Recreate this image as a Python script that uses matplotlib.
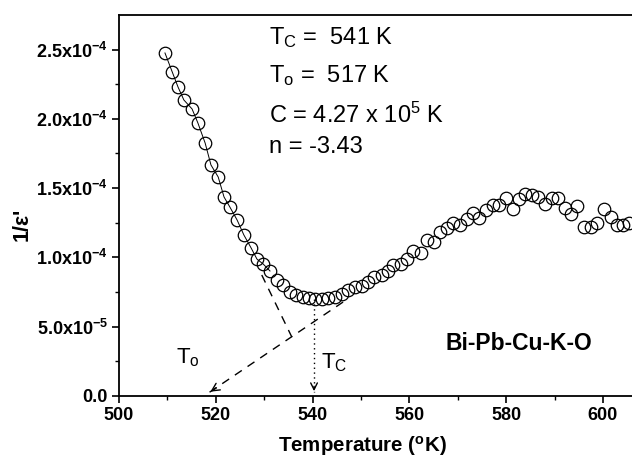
import matplotlib
matplotlib.use("Agg")
import matplotlib.pyplot as plt
import numpy as np

plt.rcParams['font.family'] = ['Liberation Sans', 'DejaVu Sans']
plt.rcParams['mathtext.fontset'] = 'custom'
plt.rcParams['mathtext.rm'] = 'Liberation Sans'
plt.rcParams['mathtext.it'] = 'Liberation Sans:italic'
plt.rcParams['mathtext.bf'] = 'Liberation Sans:bold'

temperature = [509.5, 511.0, 512.2, 513.4, 515.1, 516.3, 517.8, 519.0, 520.5, 521.7,
               522.9, 524.4, 525.8, 527.3, 528.5, 529.8, 531.2, 532.6, 533.9, 535.3,
               536.6, 538.0, 539.3, 540.5, 541.9, 543.2, 544.6, 546.1, 547.3, 548.8,
               550.2, 551.4, 552.7, 554.3, 555.6, 556.6, 558.3, 559.5, 560.7, 562.4,
               563.6, 565.1, 566.3, 567.8, 569.0, 570.5, 571.9, 573.1, 574.4, 575.8,
               577.3, 578.5, 580.0, 581.4, 582.6, 583.9, 585.3, 586.6, 588.0, 589.5,
               590.7, 592.1, 593.4, 594.6, 596.1, 597.5, 598.8, 600.2, 601.7, 602.9,
               604.1, 605.4]
inv_eps_e5 = [24.75, 23.38, 22.29, 21.36, 20.71, 19.70, 18.25, 16.67, 15.80, 14.36,
              13.64, 12.70, 11.62, 10.68, 9.88, 9.52, 9.02, 8.37, 8.01, 7.50,
              7.29, 7.14, 7.07, 7.00, 7.00, 7.07, 7.14, 7.36, 7.65, 7.86,
              7.94, 8.23, 8.59, 8.73, 9.02, 9.45, 9.52, 9.88, 10.46, 10.32,
              11.26, 11.11, 11.83, 12.12, 12.48, 12.34, 12.77, 13.20, 12.84, 13.42,
              13.78, 13.78, 14.29, 13.49, 14.21, 14.57, 14.50, 14.36, 13.85, 14.29,
              14.29, 13.56, 13.13, 13.71, 12.19, 12.19, 12.48, 13.49, 12.91, 12.34,
              12.34, 12.48]
inv_eps = [v * 1e-5 for v in inv_eps_e5]

# guide lines
steep_line_x = [529.5, 535.7]
steep_line_y = [8.73e-5, 4.26e-5]
long_line_x = [546.3, 518.4]
long_line_y = [6.78e-5, 0.2e-5]
tc_value = 540.3
tc_min = 7.0e-5

ytick_vals = [0.0, 5.0e-5, 1.0e-4, 1.5e-4, 2.0e-4, 2.5e-4]
ytick_labels = ['0.0', r'5.0x10$^{\mathbf{-5}}$', r'1.0x10$^{\mathbf{-4}}$',
                r'1.5x10$^{\mathbf{-4}}$', r'2.0x10$^{\mathbf{-4}}$', r'2.5x10$^{\mathbf{-4}}$']
xtick_vals = [500, 520, 540, 560, 580, 600]

fig = plt.figure(figsize=(6.32, 4.57), dpi=100)
ax = fig.add_axes([119/632, 61/457, 513/632, 381/457])

# thin fit line through descending branch
ax.plot(temperature[:17], inv_eps[:17], color='black', lw=0.7, zorder=2)
ax.plot(temperature, inv_eps, linestyle='none', marker='o', markersize=9,
        markerfacecolor='none', markeredgecolor='black', markeredgewidth=0.9, zorder=3)

ax.plot(steep_line_x, steep_line_y, color='black', lw=1.0, dashes=(6, 5))
ax.plot(long_line_x, long_line_y, color='black', lw=1.0, dashes=(6, 5))
ax.annotate('', xy=(long_line_x[1], long_line_y[1]),
            xytext=(long_line_x[1] + 2.2, long_line_y[1] + 0.5e-5),
            arrowprops=dict(arrowstyle='->', color='black', lw=1.0, mutation_scale=14))
ax.plot([tc_value, tc_value], [tc_min, 0.3e-5], color='black', lw=1.0, linestyle=(0, (1, 2.5)))
ax.annotate('', xy=(tc_value, 0.15e-5), xytext=(tc_value, 0.9e-5),
            arrowprops=dict(arrowstyle='->', color='black', lw=1.0, mutation_scale=12))

ax.set_xlim(500, 606.0)
ax.set_ylim(0, 2.749e-4)
ax.set_xticks(xtick_vals)
ax.set_xticklabels([str(v) for v in xtick_vals])
ax.set_xticks([510, 530, 550, 570, 590], minor=True)
ax.set_yticks(ytick_vals)
ax.set_yticklabels(ytick_labels)
ax.set_yticks([2.5e-5, 7.5e-5, 1.25e-4, 1.75e-4, 2.25e-4], minor=True)

for lab in ax.get_xticklabels() + ax.get_yticklabels():
    lab.set_fontweight('bold')
    lab.set_fontsize(13)

ax.tick_params(which='major', direction='out', length=5, width=1.2, pad=3)
ax.tick_params(which='minor', direction='out', length=3, width=1.0)
ax.spines['right'].set_visible(False)
for s in ['left', 'bottom', 'top']:
    ax.spines[s].set_linewidth(1.3)

ax.set_xlabel('Temperature ($^{\mathbf{o}}$K)', fontsize=14.8, fontweight='bold')
ax.xaxis.set_label_coords((362 - 119) / 513, -0.1)
ax.set_ylabel("1/\u03b5'", fontsize=15.5, fontweight='bold')
ax.yaxis.set_label_coords(-0.168, 0.45)

ax.text(531.0, 2.54e-4, r'T$_\mathrm{C}$ =  541 K', fontsize=17, va='baseline')
ax.text(531.0, 2.266e-4, r'T$_\mathrm{o}$ =  517 K', fontsize=17, va='baseline')
ax.text(531.0, 1.97e-4, r'C = 4.27 x 10$^5$ K', fontsize=17, va='baseline')
ax.text(531.0, 1.753e-4, 'n = -3.43', fontsize=17, va='baseline')

ax.text(511.8, 2.38e-5, r'T$_\mathrm{o}$', fontsize=16, va='baseline')
ax.text(541.7, 2.02e-5, r'T$_\mathrm{C}$', fontsize=16, va='baseline')
ax.text(582.6, 3.82e-5, 'Bi-Pb-Cu-K-O', fontsize=16.5, fontweight='bold', ha='center', va='center')

fig.savefig('out.png', dpi=100)
